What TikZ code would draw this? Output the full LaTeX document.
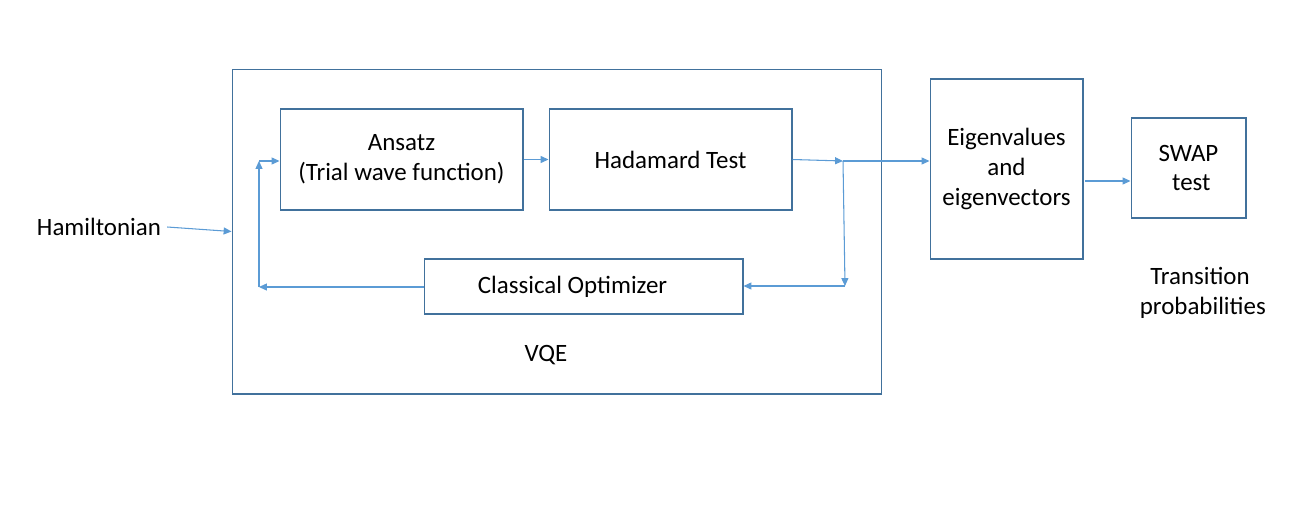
\documentclass[tikz,border=0pt]{standalone}
\usepackage{fontspec}
\setmainfont{Carlito}
\usepackage{tikz}
\usetikzlibrary{arrows.meta}

\definecolor{boxblue}{HTML}{41719C}
\definecolor{arrowblue}{HTML}{5B9BD5}

\begin{document}
\begin{tikzpicture}[x=0.02cm, y=-0.02cm,
		every node/.append style={font=\fontsize{14.2}{17}\selectfont}]
				\useasboundingbox (0,0) rectangle (1290,507);
				\begin{scope}[every node/.style = {rectangle, draw=boxblue, line width=0.6pt, inner sep=0pt,
					align=center, font=\fontsize{14.2}{17}\selectfont}]
					\node[minimum width=13cm, minimum height=6.5cm] (vqe) at (557,231.5) {};
					\node[minimum width=4.86cm, minimum height=2.02cm] (ansatz) at (401.5,159.5) {Ansatz\\(Trial wave function)};
					\node[minimum width=4.86cm, minimum height=2.02cm] (had) at (670.5,159.5) {Hadamard Test};
					\node[minimum width=6.38cm, minimum height=1.1cm] (opt) at (583.5,286.5) {\hspace*{-0.44cm}Classical Optimizer};
					\node[minimum width=3.06cm, minimum height=3.6cm] (eig) at (1006.5,169) {Eigenvalues\\and\\eigenvectors};
					\node[minimum width=2.3cm, minimum height=2cm] (swap) at (1188.5,168) {SWAP\\\ test};
				\end{scope}
					\node (ham) at (99,227) {Hamiltonian};
					\node (lbl) at (546,355) {VQE};
					\node[align=center] (trans) at (1200,293) {Transition\\\ probabilities};
					\coordinate (j1) at (843,161);
					\coordinate (j2) at (845,286);
					\coordinate (j3) at (259,287);
					\coordinate (j4) at (259,161);
					\coordinate (j5) at (1085,181);
				\begin{scope}[>={Triangle[length=4.5pt,width=4pt]},
						every edge/.style={draw=arrowblue, line width=0.6pt}]
					\path [->] (ham.east) edge (vqe.west);
					\path [->] (ansatz.east) edge (had.west);
					\path [->] (had.east) edge (j1);
					\path [->] (j1) edge (eig.west |- j1);
					\path [->] (j1) edge (j2);
					\path [->] (j2) edge (opt.east |- j2);
					\path [->] (opt.west |- j3) edge (j3);
					\path [->] (j3) edge (j4);
					\path [->] (j4) edge (ansatz.west |- j4);
					\path [->] (j5) edge (swap.west |- j5);
				\end{scope}
			\end{tikzpicture}
\end{document}
